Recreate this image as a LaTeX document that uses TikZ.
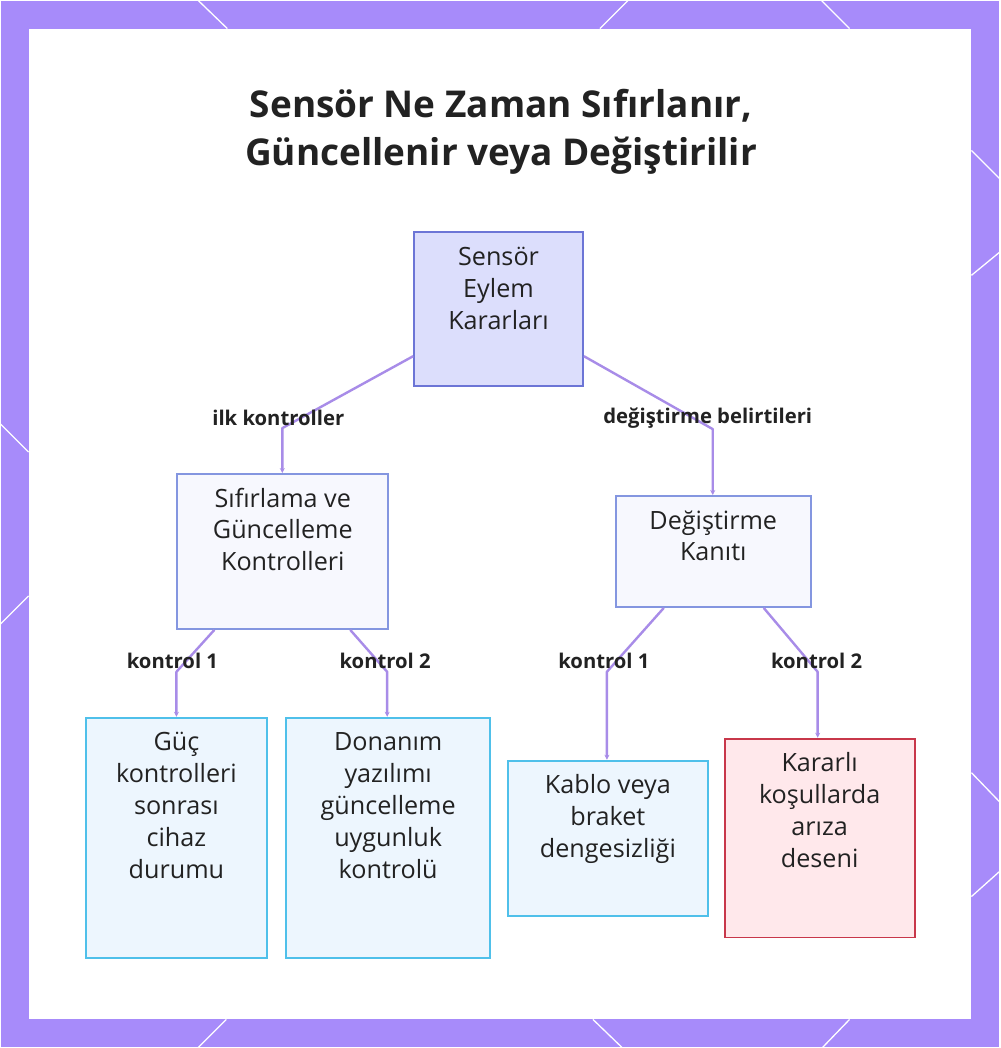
\documentclass[tikz,border=0pt]{standalone}
\usepackage{fontspec}
\setmainfont{Open Sans}
\usetikzlibrary{arrows.meta,calc}

\definecolor{mor}{RGB}{167,139,250}
\definecolor{kenarmor}{RGB}{168,140,232}
\definecolor{kokdolgu}{RGB}{220,222,252}
\definecolor{kokcizgi}{RGB}{108,117,214}
\definecolor{aradolgu}{RGB}{247,248,254}
\definecolor{aracizgi}{RGB}{132,150,224}
\definecolor{mavidolgu}{RGB}{237,246,254}
\definecolor{mavicizgi}{RGB}{79,192,234}
\definecolor{kirmizidolgu}{RGB}{255,232,235}
\definecolor{kirmizicizgi}{RGB}{200,55,74}
\definecolor{yazi}{RGB}{34,34,34}

% kutu metni: üstten hizalı, sabit boyutlu
\newcommand{\kutu}[3]{\parbox[c][#2][t]{#1}{\centering\vspace*{8pt}\rule{0pt}{25pt}#3}}

\begin{document}
\begin{tikzpicture}[x=1pt,y=-1pt,
  kutustil/.style={inner sep=0pt, line width=2pt, anchor=north west, text=yazi,
    font=\fontsize{25.2}{32}\selectfont},
  kok/.style={kutustil, draw=kokcizgi, fill=kokdolgu},
  ara/.style={kutustil, draw=aracizgi, fill=aradolgu},
  mavi/.style={kutustil, draw=mavicizgi, fill=mavidolgu},
  kirmizi/.style={kutustil, draw=kirmizicizgi, fill=kirmizidolgu},
  kenar/.style={draw=kenarmor, line width=2.4pt, line join=round,
    -{Stealth[length=5pt,width=5pt]}},
  etiket/.style={text=yazi, font=\fontsize{20.3}{24}\selectfont\bfseries},
  desen/.style={white, line width=1.3pt}]

  % çerçeve ve beyaz zemin
  \fill[mor] (0,0) rectangle (1000,1048);
  \fill[white] (28,28) rectangle (972,1020);
  \draw[desen] (198,0) -- (227,28);
  \draw[desen] (600,28) -- (628,0);
  \draw[desen] (822,0) -- (850,28);
  \draw[desen] (226,1020) -- (198,1048);
  \draw[desen] (593,1020) -- (622,1048);
  \draw[desen] (850,1020) -- (823,1048);
  \draw[desen] (0,424) -- (28,452);
  \draw[desen] (28,596) -- (0,624);
  \draw[desen] (972,150) -- (1000,178);
  \draw[desen] (1000,252) -- (972,275);
  \draw[desen] (972,773) -- (1000,802);
  \draw[desen] (1000,872) -- (972,897);

  % başlık
  \node[text=yazi, align=center, font=\fontsize{37}{48}\selectfont\bfseries] (baslik) at (501,131)
    {Sensör Ne Zaman Sıfırlanır,\\Güncellenir veya Değiştirilir};

  % kutular
  \node[kok] (karar) at (413,231) {\kutu{169pt}{154pt}{Sensör\\Eylem\\Kararları}};
  \node[ara] (sifir) at (176,473) {\kutu{211pt}{155pt}{Sıfırlama ve\\Güncelleme\\Kontrolleri}};
  \node[ara] (kanit) at (615,495) {\kutu{195pt}{111pt}{Değiştirme\\Kanıtı}};
  \node[mavi] (guc) at (84,717) {\kutu{182pt}{241pt}{Güç\\kontrolleri\\sonrası\\cihaz\\durumu}};
  \node[mavi] (donanim) at (285,717) {\kutu{204pt}{241pt}{Donanım\\yazılımı\\güncelleme\\uygunluk\\kontrolü}};
  \node[mavi] (kablo) at (507,760) {\kutu{200pt}{155pt}{Kablo veya\\braket\\dengesizliği}};
  \node[kirmizi] (ariza) at (724,738) {\kutu{190pt}{199pt}{Kararlı\\koşullarda\\arıza\\deseni}};

  % kırılma noktaları
  \coordinate (k1) at (282,428);
  \coordinate (k2) at (713,429);
  \coordinate (k3) at (176,672);
  \coordinate (k4) at (387,672);
  \coordinate (k5) at (607,672);
  \coordinate (k6) at (818,672);

  % bağlantılar
  \draw[kenar] ([yshift=-47pt]karar.west) -- (k1) -- (k1 |- sifir.north);
  \draw[kenar] ([yshift=-47pt]karar.east) -- (k2) -- (k2 |- kanit.north);
  \draw[kenar] ([xshift=-68.5pt]sifir.south) -- (k3) -- (k3 |- guc.north);
  \draw[kenar] ([xshift=67.5pt]sifir.south) -- (k4) -- (k4 |- donanim.north);
  \draw[kenar] ([xshift=-49.5pt]kanit.south) -- (k5) -- (k5 |- kablo.north);
  \draw[kenar] ([xshift=50.5pt]kanit.south) -- (k6) -- (k6 |- ariza.north);

  % etiketler
  \node[etiket] (e1) at (278,418) {ilk kontroller};
  \node[etiket] (e2) at (708,418) {değiştirme belirtileri};
  \node[etiket] (e3) at (172,661) {kontrol 1};
  \node[etiket] (e4) at (385,661) {kontrol 2};
  \node[etiket] (e5) at (604,661) {kontrol 1};
  \node[etiket] (e6) at (817,661) {kontrol 2};
\end{tikzpicture}
\end{document}
